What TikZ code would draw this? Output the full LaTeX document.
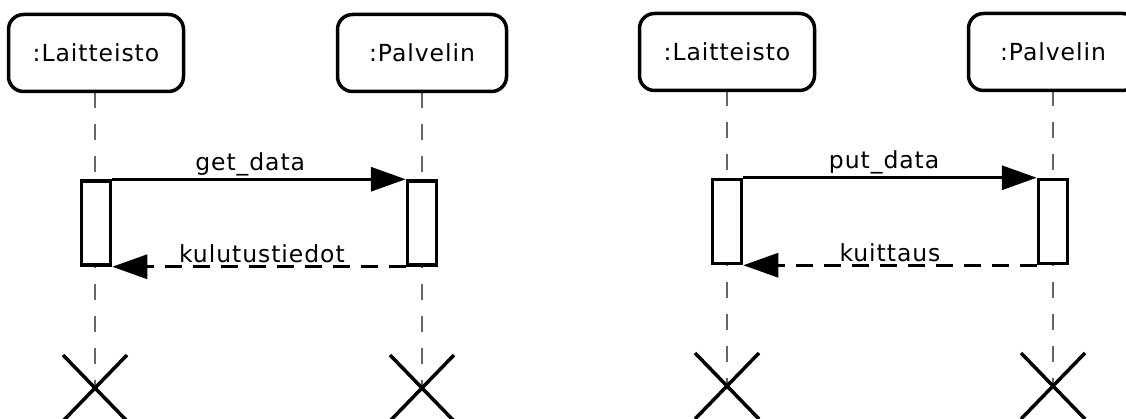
\documentclass[tikz,border=0pt]{standalone}
\usepackage{fontspec}
\setmainfont[LetterSpace=4]{DejaVu Sans}
\usetikzlibrary{arrows.meta,calc}
\definecolor{lifegray}{HTML}{666666}
\tikzset{
  x=1pt, y=-1pt,
  every node/.style={font=\fontsize{23.5}{27}\selectfont},
  objbox/.style={draw, line width=3.5pt, rounded corners=15pt, fill=white,
    minimum width=#1, minimum height=77pt, inner sep=0pt},
  lifeline/.style={draw=lifegray, line width=2.2pt, dash pattern=on 16pt off 16pt},
  actbox/.style={draw, line width=3.5pt, fill=white, minimum width=29pt,
    minimum height=84pt, inner sep=0pt},
  callmsg/.style={line width=3.3pt, -{Triangle[length=35pt,width=24pt]}},
  replymsg/.style={line width=3.3pt, dash pattern=on 17pt off 11pt,
    -{Triangle[length=35pt,width=24pt]}},
  msglabel/.style={above, inner sep=2pt},
  destroy/.style={line width=3.5pt},
}
\begin{document}
\begin{tikzpicture}
\useasboundingbox (0,0) rectangle (1126,419);
\clip (0,0) rectangle (1126,419);
\fill[white] (0,0) rectangle (1126,419);

% ---- first interaction: get_data ----
\coordinate (endA) at (95,388);
\coordinate (endB) at (422,388);
\draw[lifeline] (95,92) -- (endA);
\draw[lifeline] (422,92) -- (endB);
\node[objbox=175pt] (devA) at (96,53) {:Laitteisto};
\node[objbox=169pt] (srvA) at (422,53) {:Palvelin};
\node[actbox] (actDevA) at (96,223) {};
\node[actbox] (actSrvA) at (422,223) {};
\draw[callmsg] (actDevA.north east) -- (actSrvA.north west)
  node[msglabel, pos=0.47] (lblGet) {get\_data};
\draw[replymsg] (actSrvA.south west) -- (actDevA.south east)
  node[msglabel, pos=0.49] (lblKul) {kulutustiedot};
\draw[destroy] ($(endA)+(-32,-33)$) -- ($(endA)+(32,33)$)
  ($(endA)+(32,-33)$) -- ($(endA)+(-32,33)$);
\draw[destroy] ($(endB)+(-32,-33)$) -- ($(endB)+(32,33)$)
  ($(endB)+(32,-33)$) -- ($(endB)+(-32,33)$);

% ---- second interaction: put_data ----
\coordinate (endC) at (727,386);
\coordinate (endD) at (1053,386);
\draw[lifeline] (727,90) -- (endC);
\draw[lifeline] (1053,90) -- (endD);
\node[objbox=175pt] (devB) at (727,52) {:Laitteisto};
\node[objbox=169pt] (srvB) at (1053,52) {:Palvelin};
\node[actbox] (actDevB) at (727,221.5) {};
\node[actbox] (actSrvB) at (1053,221.5) {};
\draw[callmsg] (actDevB.north east) -- (actSrvB.north west)
  node[msglabel, pos=0.48] (lblPut) {put\_data};
\draw[replymsg] (actSrvB.south west) -- (actDevB.south east)
  node[msglabel, pos=0.5] (lblKui) {kuittaus};
\draw[destroy] ($(endC)+(-32,-33)$) -- ($(endC)+(32,33)$)
  ($(endC)+(32,-33)$) -- ($(endC)+(-32,33)$);
\draw[destroy] ($(endD)+(-32,-33)$) -- ($(endD)+(32,33)$)
  ($(endD)+(32,-33)$) -- ($(endD)+(-32,33)$);
\end{tikzpicture}
\end{document}
